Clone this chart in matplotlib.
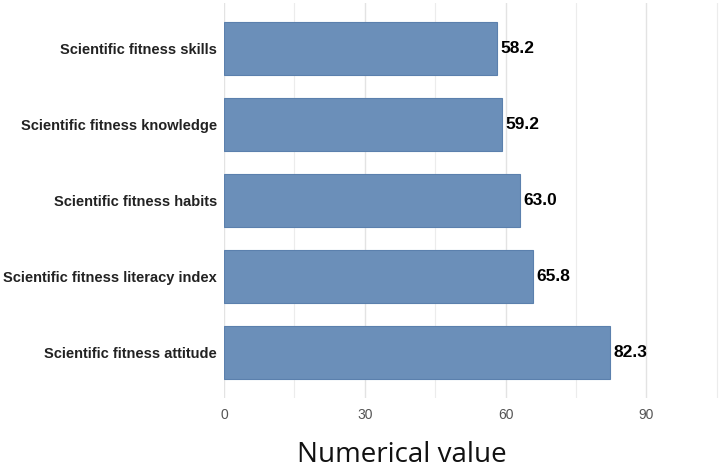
import matplotlib
matplotlib.use("Agg")
import matplotlib.pyplot as plt
from matplotlib.ticker import MultipleLocator

categories = ["Scientific fitness attitude",
              "Scientific fitness literacy index",
              "Scientific fitness habits",
              "Scientific fitness knowledge",
              "Scientific fitness skills"]
values = [82.3, 65.8, 63.0, 59.2, 58.2]
x_ticks = [0, 30, 60, 90]
x_label = "Numerical value"

fig = plt.figure(figsize=(7.2, 4.72), dpi=100)
ax = fig.add_axes([224/720, 74/472, 496/720, 395/472])

ypos = list(range(len(categories)))
ax.barh(ypos, values, height=0.69, color="#6b8fb9", edgecolor="#5b80ad",
        linewidth=0.8, zorder=3)
for y, v in zip(ypos, values):
    ax.text(v + 0.8, y, f"{v:.1f}", va="center", ha="left",
            fontsize=12.5, fontweight="bold", family="Liberation Sans",
            color="#000000", zorder=4)

ax.set_xlim(0, 105.7)
ax.set_ylim(-0.6, len(categories) - 0.4)
ax.set_xticks(x_ticks)
ax.xaxis.set_minor_locator(MultipleLocator(15))
ax.grid(axis="x", which="major", color="#e3e3e3", linewidth=1.0, zorder=0)
ax.grid(axis="x", which="minor", color="#ececec", linewidth=0.8, zorder=0)
ax.set_yticks(ypos)
ax.set_yticklabels(categories, fontsize=10.5, fontweight="bold",
                   family="Liberation Sans", color="#222222")
for lbl in ax.get_xticklabels():
    lbl.set_family("Liberation Sans")
    lbl.set_fontsize(10)
    lbl.set_color("#555555")
ax.tick_params(axis="both", which="both", length=0)
ax.tick_params(axis="x", pad=7)
ax.tick_params(axis="y", pad=5)
for s in ax.spines.values():
    s.set_visible(False)
fig.text(402/720, 1 - 455/472, x_label, fontsize=20, family="Open Sans",
         color="#111111", ha="center", va="center")

fig.savefig("out.png", dpi=100, facecolor="white")
